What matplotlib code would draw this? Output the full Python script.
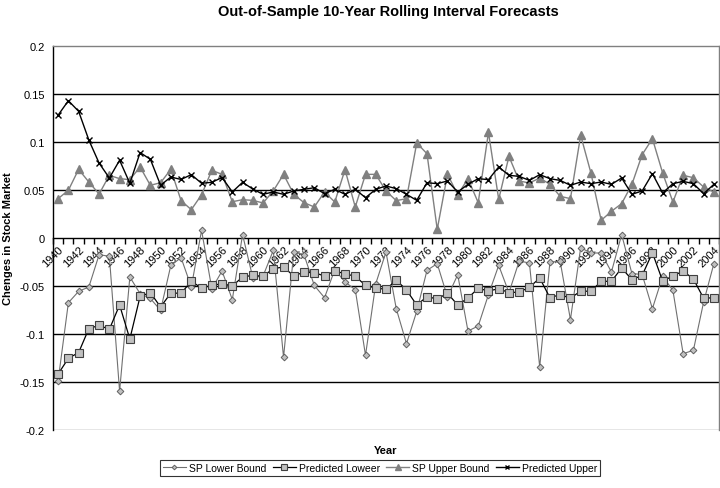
import matplotlib
matplotlib.use("Agg")
import matplotlib.pyplot as plt
import numpy as np

plt.rcParams['font.family'] = ['Liberation Sans', 'DejaVu Sans']

years = list(range(1940, 2005))

sp_lower = [
    -0.1486, -0.0674, -0.0556, -0.0510, -0.0174, -0.0190, -0.1597, -0.0406, -0.0580, -0.0630,
    -0.0753, -0.0285, -0.0205, -0.0510, 0.0080, -0.0528, -0.0344, -0.0642, 0.0035, -0.0413,
    -0.0396, -0.0129, -0.1243, -0.0146, -0.0174, -0.0494, -0.0622, -0.0330, -0.0458, -0.0538,
    -0.1222, -0.0476, -0.0146, -0.0736, -0.1100, -0.0764, -0.0337, -0.0267, -0.0615, -0.0382,
    -0.0969, -0.0917, -0.0590, -0.0285, -0.0570, -0.0240, -0.0260, -0.1344, -0.0250, -0.0244,
    -0.0850, -0.0101, -0.0156, -0.0156, -0.0354, 0.0035, -0.0370, -0.0380, -0.0736, -0.0400,
    -0.0545, -0.1205, -0.1170, -0.0667, -0.0267,
]

pred_lower = [
    -0.1417, -0.1253, -0.1194, -0.0944, -0.0910, -0.0951, -0.0698, -0.1052, -0.0608, -0.0569,
    -0.0719, -0.0573, -0.0576, -0.0451, -0.0521, -0.0493, -0.0476, -0.0500, -0.0406, -0.0389,
    -0.0399, -0.0319, -0.0302, -0.0396, -0.0354, -0.0361, -0.0396, -0.0344, -0.0372, -0.0399,
    -0.0493, -0.0521, -0.0535, -0.0438, -0.0542, -0.0698, -0.0611, -0.0635, -0.0576, -0.0698,
    -0.0625, -0.0524, -0.0552, -0.0528, -0.0569, -0.0563, -0.0514, -0.0417, -0.0622, -0.0590,
    -0.0628, -0.0552, -0.0556, -0.0451, -0.0451, -0.0313, -0.0434, -0.0390, -0.0153, -0.0448,
    -0.0396, -0.0344, -0.0427, -0.0628, -0.0622,
]

sp_upper = [
    0.0410, 0.0497, 0.0715, 0.0583, 0.0458, 0.0653, 0.0618, 0.0608, 0.0740, 0.0549,
    0.0576, 0.0715, 0.0389, 0.0295, 0.0451, 0.0705, 0.0663, 0.0378, 0.0399, 0.0392,
    0.0365, 0.0490, 0.0663, 0.0455, 0.0368, 0.0323, 0.0479, 0.0375, 0.0712, 0.0323,
    0.0663, 0.0663, 0.0490, 0.0389, 0.0410, 0.0990, 0.0878, 0.0090, 0.0663, 0.0451,
    0.0618, 0.0368, 0.1100, 0.0403, 0.0850, 0.0594, 0.0573, 0.0625, 0.0559, 0.0434,
    0.0410, 0.1070, 0.0677, 0.0184, 0.0278, 0.0358, 0.0559, 0.0868, 0.1035, 0.0677,
    0.0375, 0.0653, 0.0628, 0.0531, 0.0479,
]

pred_upper = [
    0.1280, 0.1430, 0.1320, 0.1020, 0.0780, 0.0625, 0.0810, 0.0570, 0.0890, 0.0820,
    0.0550, 0.0635, 0.0610, 0.0660, 0.0570, 0.0580, 0.0630, 0.0480, 0.0580, 0.0510,
    0.0455, 0.0480, 0.0455, 0.0490, 0.0507, 0.0524, 0.0462, 0.0507, 0.0455, 0.0507,
    0.0420, 0.0507, 0.0542, 0.0514, 0.0455, 0.0392, 0.0576, 0.0566, 0.0594, 0.0479,
    0.0559, 0.0618, 0.0608, 0.0740, 0.0653, 0.0642, 0.0600, 0.0660, 0.0618, 0.0600,
    0.0549, 0.0583, 0.0566, 0.0583, 0.0559, 0.0625, 0.0455, 0.0490, 0.0670, 0.0469,
    0.0566, 0.0590, 0.0566, 0.0462, 0.0559,
]

y_ticks = [0.2, 0.15, 0.1, 0.05, 0, -0.05, -0.1, -0.15, -0.2]
y_tick_labels = ["0.2", "0.15", "0.1", "0.05", "0", "-0.05", "-0.1", "-0.15", "-0.2"]

fig = plt.figure(figsize=(7.2, 4.89), dpi=100)
ax = fig.add_axes([53 / 720, 1 - 431 / 489, 666 / 720, 384 / 489])

x = np.arange(len(years))

ax.plot(x, sp_lower, color="#707070", lw=0.8, marker="D", ms=3.4,
        mfc="#c0c0c0", mec="#606060", mew=0.7, label="SP Lower Bound", zorder=3)
ax.plot(x, pred_lower, color="black", lw=0.9, marker="s", ms=5.3,
        mfc="#c0c0c0", mec="#404040", mew=0.8, label="Predicted Loweer", zorder=4)
ax.plot(x, sp_upper, color="#808080", lw=1.0, marker="^", ms=5.3,
        mfc="#808080", mec="#808080", label="SP Upper Bound", zorder=3)
ax.plot(x, pred_upper, color="black", lw=1.0, marker="x", ms=5.0,
        mec="black", mew=1.0, label="Predicted Upper", zorder=4)

ax.set_xlim(-0.5, len(years) - 0.5)
ax.set_ylim(-0.2, 0.2)

# horizontal gridlines
for v in [0.15, 0.1, 0.05, -0.05, -0.1, -0.15]:
    ax.axhline(v, color="black", lw=1.0, zorder=1)

for s in ["top", "right"]:
    ax.spines[s].set_color("#808080")
    ax.spines[s].set_linewidth(1.0)
ax.spines["left"].set_color("black")
ax.spines["left"].set_linewidth(1.0)
ax.spines["bottom"].set_position(("data", 0))
ax.spines["bottom"].set_color("black")
ax.spines["bottom"].set_linewidth(1.0)
ax.axhline(-0.2, color="#808080", lw=1.0, zorder=1)

ax.set_yticks(y_ticks)
ax.set_yticklabels(y_tick_labels, fontsize=8)
ax.tick_params(axis="y", length=0, pad=6)

label_idx = x[::2]
ax.set_xticks(label_idx)
ax.set_xticklabels([str(years[i]) for i in label_idx], rotation=45,
                   ha="right", va="top", rotation_mode="anchor", fontsize=8)
ax.tick_params(axis="x", which="major", length=0, pad=4)
ax.set_xticks(np.arange(len(years) + 1) - 0.5, minor=True)
ax.tick_params(axis="x", which="minor", length=4, width=1.0, direction="out", color="black")

fig.text(388 / 720, 1 - 12 / 489, "Out-of-Sample 10-Year Rolling Interval Forecasts",
         ha="center", va="center", fontsize=10.5, fontweight="bold")
fig.text(386 / 720, 1 - 451 / 489, "Year", ha="center", va="center",
         fontsize=8, fontweight="bold")
fig.text(8 / 720, 1 - 239 / 489, "Chenges in Stock Market", ha="center", va="center",
         rotation=90, fontsize=8, fontweight="bold")

leg = fig.legend(loc="center", bbox_to_anchor=(380 / 720, 1 - 469 / 489), ncol=4,
                 fontsize=7.5, frameon=True, fancybox=False, handlelength=2.2,
                 handletextpad=0.3, columnspacing=0.6, borderpad=0.25, markerscale=0.7)
leg.get_frame().set_edgecolor("black")
leg.get_frame().set_linewidth(0.8)

fig.savefig("out.png", dpi=100)
